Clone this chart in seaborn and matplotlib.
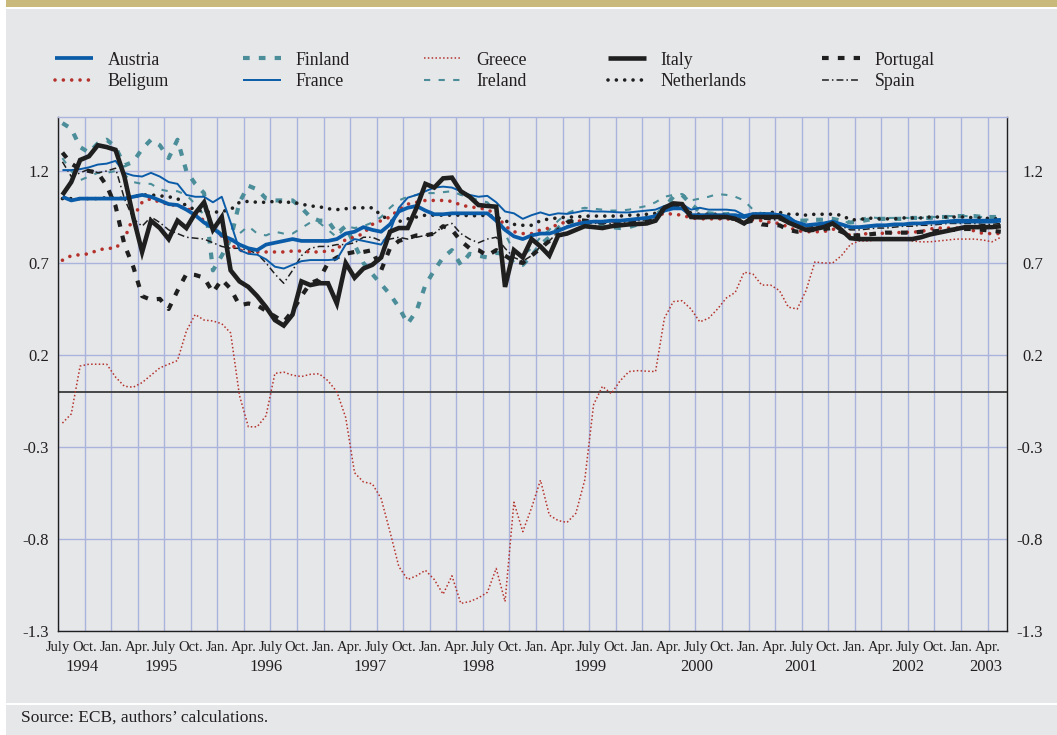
import numpy as np
import pandas as pd
import matplotlib
matplotlib.use("Agg")
import matplotlib.pyplot as plt
from matplotlib.patches import Rectangle
from matplotlib.lines import Line2D
import seaborn as sns

# ---------------- data (monthly, July 1994 - May 2003) ----------------
austria = [1.06, 1.04, 1.05, 1.05, 1.05, 1.05, 1.05, 1.05, 1.06, 1.07, 1.06, 1.04, 1.02, 1.015, 0.99, 0.96, 0.92, 0.89, 0.85, 0.83, 0.80, 0.78, 0.77, 0.80, 0.81, 0.82, 0.83,
           0.82, 0.82, 0.82, 0.82, 0.83, 0.86, 0.87, 0.895, 0.88, 0.87, 0.91, 0.98, 1.0, 1.01, 0.985, 0.965, 0.965, 0.97, 0.97, 0.97, 0.97, 0.97, 0.93, 0.88, 0.845, 0.83, 0.85,
           0.86, 0.86, 0.875, 0.895, 0.91, 0.92, 0.925, 0.925, 0.93, 0.93, 0.935, 0.94, 0.945, 0.955, 0.985, 0.997, 0.997, 0.96, 0.96, 0.96, 0.96, 0.96, 0.96, 0.95, 0.965, 0.965,
           0.965, 0.96, 0.935, 0.92, 0.905, 0.91, 0.915, 0.925, 0.91, 0.895, 0.895, 0.9, 0.905, 0.905, 0.91, 0.91, 0.915, 0.915, 0.92, 0.92, 0.925, 0.925, 0.925, 0.925, 0.925, 0.925, 0.93]
belgium = [0.715, 0.74, 0.745, 0.75, 0.77, 0.78, 0.78, 0.83, 0.95, 1.03, 1.05, 1.03, 1.02, 1.01, 1.0, 0.97, 0.93, 0.89, 0.845, 0.80, 0.77, 0.76, 0.76, 0.76, 0.76, 0.76, 0.765,
           0.765, 0.76, 0.76, 0.765, 0.77, 0.83, 0.84, 0.86, 0.91, 0.93, 0.95, 0.99, 1.02, 1.03, 1.04, 1.04, 1.04, 1.035, 1.015, 1.005, 1.0, 0.99, 0.965, 0.90, 0.87, 0.86, 0.86,
           0.88, 0.89, 0.91, 0.925, 0.93, 0.925, 0.925, 0.925, 0.925, 0.93, 0.935, 0.94, 0.945, 0.955, 0.97, 0.965, 0.96, 0.945, 0.94, 0.94, 0.94, 0.94, 0.935, 0.92, 0.935, 0.93,
           0.92, 0.915, 0.895, 0.875, 0.87, 0.87, 0.87, 0.885, 0.87, 0.85, 0.855, 0.86, 0.86, 0.862, 0.865, 0.866, 0.868, 0.87, 0.885, 0.89, 0.89, 0.89, 0.885, 0.875, 0.86, 0.86, 0.86]
finland = [1.46, 1.43, 1.33, 1.30, 1.35, 1.37, 1.33, 1.23, 1.25, 1.32, 1.37, 1.34, 1.27, 1.37, 1.20, 1.13, 1.08, 0.66, 0.74, 0.83, 1.03, 1.12, 1.10, 1.05, 1.04, 1.04, 1.04,
           1.0, 0.95, 0.93, 0.93, 0.86, 0.90, 0.80, 0.70, 0.64, 0.585, 0.53, 0.46, 0.37, 0.44, 0.58, 0.66, 0.73, 0.77, 0.69, 0.75, 0.74, 0.73, 0.755, 0.75, 0.70, 0.69, 0.74,
           0.80, 0.84, 0.89, 0.93, 0.92, 0.91, 0.905, 0.90, 0.895, 0.89, 0.895, 0.91, 0.925, 0.96, 1.0, 1.06, 1.07, 1.02, 0.98, 0.97, 0.965, 0.965, 0.97, 0.95, 0.96, 0.96,
           0.955, 0.955, 0.94, 0.93, 0.93, 0.935, 0.935, 0.94, 0.93, 0.92, 0.925, 0.935, 0.94, 0.94, 0.94, 0.94, 0.945, 0.945, 0.945, 0.95, 0.95, 0.955, 0.955, 0.955, 0.95, 0.95, 0.95]
france = [1.205, 1.205, 1.21, 1.22, 1.235, 1.24, 1.255, 1.19, 1.175, 1.17, 1.19, 1.17, 1.14, 1.13, 1.07, 1.06, 1.06, 1.03, 1.06, 0.92, 0.77, 0.75, 0.745, 0.72, 0.68, 0.67, 0.69,
          0.71, 0.716, 0.716, 0.716, 0.72, 0.80, 0.83, 0.82, 0.81, 0.80, 0.87, 1.0, 1.055, 1.07, 1.09, 1.11, 1.115, 1.11, 1.09, 1.07, 1.06, 1.065, 1.03, 0.98, 0.97, 0.94, 0.96,
          0.975, 0.96, 0.97, 0.967, 0.975, 0.985, 0.98, 0.98, 0.978, 0.975, 0.975, 0.98, 0.985, 0.99, 1.01, 1.02, 1.02, 0.99, 1.0, 0.99, 0.99, 0.99, 0.985, 0.96, 0.97, 0.97,
          0.97, 0.965, 0.955, 0.92, 0.905, 0.905, 0.91, 0.92, 0.91, 0.895, 0.89, 0.895, 0.9, 0.905, 0.905, 0.91, 0.915, 0.915, 0.92, 0.925, 0.93, 0.935, 0.935, 0.935, 0.935, 0.935, 0.94]
greece = [-0.17, -0.12, 0.14, 0.15, 0.15, 0.15, 0.08, 0.03, 0.025, 0.05, 0.09, 0.13, 0.15, 0.17, 0.33, 0.42, 0.39, 0.385, 0.37, 0.32, -0.02, -0.19, -0.19, -0.13, 0.10, 0.107, 0.09,
          0.083, 0.095, 0.098, 0.06, 0.0, -0.14, -0.44, -0.49, -0.50, -0.58, -0.76, -0.95, -1.02, -1.0, -0.97, -1.02, -1.10, -1.0, -1.15, -1.14, -1.12, -1.09, -0.96, -1.14, -0.60, -0.76, -0.63,
          -0.48, -0.67, -0.70, -0.71, -0.66, -0.48, -0.07, 0.03, -0.01, 0.06, 0.11, 0.115, 0.112, 0.11, 0.40, 0.49, 0.495, 0.45, 0.38, 0.40, 0.45, 0.51, 0.54, 0.65, 0.64, 0.58,
          0.58, 0.55, 0.46, 0.45, 0.55, 0.706, 0.70, 0.70, 0.74, 0.80, 0.82, 0.82, 0.825, 0.825, 0.83, 0.83, 0.82, 0.815, 0.815, 0.82, 0.825, 0.83, 0.83, 0.83, 0.825, 0.815, 0.84]
ireland = [1.27, 1.20, 1.15, 1.17, 1.19, 1.19, 1.20, 1.18, 1.14, 1.13, 1.13, 1.10, 1.09, 1.09, 1.07, 1.02, 0.96, 0.90, 0.86, 0.82, 0.86, 0.90, 0.86, 0.85, 0.87, 0.86, 0.86,
           0.89, 0.92, 0.92, 0.88, 0.84, 0.90, 0.89, 0.90, 0.92, 0.95, 1.0, 1.04, 1.06, 1.07, 1.08, 1.08, 1.085, 1.09, 1.07, 1.06, 1.04, 1.03, 0.98, 0.86, 0.76, 0.74, 0.78,
           0.84, 0.88, 0.93, 0.97, 0.99, 1.0, 0.995, 0.99, 0.985, 0.985, 0.99, 1.0, 1.01, 1.03, 1.06, 1.07, 1.075, 1.04, 1.05, 1.06, 1.075, 1.07, 1.06, 1.04, 0.99, 0.97,
           0.96, 0.95, 0.935, 0.93, 0.935, 0.94, 0.935, 0.93, 0.925, 0.92, 0.935, 0.95, 0.945, 0.945, 0.945, 0.945, 0.945, 0.945, 0.95, 0.95, 0.955, 0.955, 0.955, 0.95, 0.95, 0.945, 0.945]
italy = [1.07, 1.14, 1.26, 1.28, 1.34, 1.33, 1.315, 1.17, 0.95, 0.76, 0.93, 0.89, 0.83, 0.93, 0.89, 0.97, 1.03, 0.88, 0.95, 0.66, 0.60, 0.57, 0.52, 0.46, 0.39, 0.36, 0.42,
         0.60, 0.58, 0.59, 0.59, 0.48, 0.70, 0.62, 0.67, 0.69, 0.73, 0.87, 0.89, 0.89, 1.00, 1.13, 1.11, 1.16, 1.164, 1.09, 1.06, 1.015, 1.01, 1.006, 0.57, 0.77, 0.73, 0.83,
         0.79, 0.74, 0.85, 0.86, 0.88, 0.90, 0.895, 0.89, 0.90, 0.905, 0.91, 0.912, 0.915, 0.93, 1.0, 1.024, 1.02, 0.95, 0.948, 0.95, 0.95, 0.95, 0.94, 0.915, 0.95, 0.95,
         0.95, 0.95, 0.92, 0.90, 0.88, 0.885, 0.895, 0.915, 0.88, 0.835, 0.83, 0.83, 0.83, 0.83, 0.83, 0.83, 0.83, 0.84, 0.855, 0.865, 0.875, 0.885, 0.895, 0.895, 0.895, 0.895, 0.9]
netherlands = [1.05, 1.05, 1.05, 1.05, 1.05, 1.055, 1.055, 1.05, 1.06, 1.07, 1.07, 1.065, 1.06, 1.05, 1.01, 0.99, 0.98, 0.975, 0.98, 0.99, 1.03, 1.035, 1.03, 1.03, 1.035, 1.03, 1.03,
               1.02, 1.01, 1.006, 0.995, 0.99, 0.995, 1.0, 1.0, 1.0, 0.96, 0.93, 0.925, 0.94, 0.95, 0.96, 0.96, 0.96, 0.96, 0.96, 0.957, 0.957, 0.96, 0.95, 0.93, 0.91, 0.905, 0.905,
               0.93, 0.94, 0.945, 0.95, 0.95, 0.955, 0.955, 0.955, 0.955, 0.955, 0.96, 0.96, 0.965, 0.97, 1.0, 1.02, 1.02, 0.97, 0.965, 0.965, 0.965, 0.96, 0.955, 0.945, 0.965, 0.965,
               0.975, 0.975, 0.965, 0.965, 0.96, 0.965, 0.965, 0.965, 0.96, 0.935, 0.935, 0.945, 0.94, 0.94, 0.94, 0.945, 0.945, 0.945, 0.95, 0.95, 0.95, 0.95, 0.95, 0.945, 0.945, 0.94, 0.94]
portugal = [1.30, 1.24, 1.21, 1.20, 1.19, 1.12, 1.01, 0.80, 0.68, 0.52, 0.50, 0.505, 0.45, 0.55, 0.64, 0.635, 0.62, 0.54, 0.61, 0.56, 0.47, 0.48, 0.47, 0.44, 0.41, 0.38, 0.44,
            0.52, 0.59, 0.61, 0.70, 0.73, 0.75, 0.76, 0.76, 0.77, 0.66, 0.78, 0.82, 0.835, 0.85, 0.85, 0.86, 0.90, 0.88, 0.82, 0.78, 0.77, 0.74, 0.77, 0.74, 0.71, 0.70, 0.74,
            0.78, 0.82, 0.88, 0.92, 0.935, 0.93, 0.925, 0.92, 0.92, 0.92, 0.925, 0.93, 0.935, 0.95, 0.99, 1.015, 1.01, 0.96, 0.95, 0.95, 0.95, 0.945, 0.94, 0.92, 0.93, 0.91,
            0.905, 0.905, 0.88, 0.87, 0.875, 0.88, 0.885, 0.89, 0.87, 0.85, 0.85, 0.855, 0.86, 0.865, 0.865, 0.865, 0.865, 0.87, 0.87, 0.875, 0.88, 0.88, 0.885, 0.885, 0.88, 0.875, 0.87]
spain = [1.25, 1.17, 1.19, 1.21, 1.19, 1.20, 1.215, 1.05, 0.94, 0.90, 0.95, 0.92, 0.88, 0.86, 0.84, 0.835, 0.83, 0.81, 0.79, 0.78, 0.78, 0.77, 0.75, 0.70, 0.64, 0.59, 0.66,
         0.74, 0.78, 0.79, 0.79, 0.80, 0.80, 0.81, 0.84, 0.84, 0.82, 0.83, 0.84, 0.83, 0.84, 0.85, 0.86, 0.90, 0.915, 0.86, 0.83, 0.81, 0.83, 0.84, 0.78, 0.73, 0.71, 0.74,
         0.79, 0.82, 0.87, 0.9, 0.91, 0.915, 0.915, 0.915, 0.915, 0.92, 0.925, 0.93, 0.935, 0.95, 0.99, 1.01, 1.01, 0.96, 0.955, 0.955, 0.955, 0.95, 0.945, 0.925, 0.945, 0.94,
         0.935, 0.935, 0.915, 0.90, 0.895, 0.9, 0.905, 0.915, 0.9, 0.88, 0.88, 0.885, 0.89, 0.89, 0.895, 0.9, 0.9, 0.905, 0.905, 0.91, 0.915, 0.915, 0.915, 0.915, 0.91, 0.91, 0.915]

countries = ["Austria", "Beligum", "Finland", "France", "Greece",
             "Ireland", "Italy", "Netherlands", "Portugal", "Spain"]
series = dict(zip(countries, [austria, belgium, finland, france, greece,
                              ireland, italy, netherlands, portugal, spain]))

quarter_labels = ["July", "Oct.", "Jan.", "Apr."] * 9
year_labels = ["1994", "1995", "1996", "1997", "1998", "1999", "2000", "2001", "2002", "2003"]
ytick_values = [-1.3, -0.8, -0.3, 0.2, 0.7, 1.2]
ytick_labels = ["-1.3", "-0.8", "-0.3", "0.2", "0.7", "1.2"]
source_text = "Source: ECB, authors\u2019 calculations."

n = len(austria)
for k, v in series.items():
    assert len(v) == n, (k, len(v))

# ---------------- layout / style (positions in months since July 1994) ----------------
month_pos = np.arange(n) + 0.5
tick_pos = np.arange(0, 3 * len(quarter_labels), 3)
year_pos = [2.7, 11.6, 23.5, 35.3, 47.5, 60.1, 72.2, 83.9, 96.0, 104.8]

BLUE = "#0b5ca8"
RED = "#b5322c"
TEAL = "#4b8e9a"
BLACK = "#1f1f1f"
GRID = "#a9b3db"
PANEL = "#e6e7e9"
GOLD = "#c9b97b"
TXT = "#231f20"

styles = {
    "Greece":      dict(color=RED,   lw=1.1, ls=(0, (1.0, 1.5)), cap="butt"),
    "Ireland":     dict(color=TEAL,  lw=1.5, ls=(0, (3.0, 4.0)), cap="butt"),
    "Finland":     dict(color=TEAL,  lw=3.0, ls=(0, (1.6, 2.2)), cap="butt"),
    "Spain":       dict(color=BLACK, lw=1.1, ls=(0, (4.5, 2.0, 1.0, 2.0)), cap="butt"),
    "Netherlands": dict(color=BLACK, lw=2.6, ls=(0, (0.01, 2.3)), cap="round"),
    "Beligum":     dict(color=RED,   lw=2.6, ls=(0, (0.01, 2.3)), cap="round"),
    "Portugal":    dict(color=BLACK, lw=3.0, ls=(0, (1.6, 2.2)), cap="butt"),
    "France":      dict(color=BLUE,  lw=1.4, ls="-", cap="butt"),
    "Austria":     dict(color=BLUE,  lw=2.7, ls="-", cap="butt"),
    "Italy":       dict(color=BLACK, lw=3.3, ls="-", cap="butt"),
}
draw_order = ["Greece", "Ireland", "Finland", "Spain", "Netherlands",
              "Beligum", "Portugal", "France", "Austria", "Italy"]

sns.set_style("white")
plt.rcParams["font.family"] = ["Liberation Serif", "DejaVu Serif"]

W, H = 1057, 735
fig = plt.figure(figsize=(W / 100, H / 100), dpi=100)
fig.patch.set_facecolor("white")

# background panels
fig.patches.append(Rectangle((6 / W, 1 - 7 / H), 1, 7 / H, transform=fig.transFigure,
                             facecolor=GOLD, edgecolor="none", zorder=-10))
fig.patches.append(Rectangle((6 / W, (H - 703) / H), 1, (703 - 9) / H, transform=fig.transFigure,
                             facecolor=PANEL, edgecolor="none", zorder=-10))
fig.patches.append(Rectangle((6 / W, 0), 1, (H - 705) / H, transform=fig.transFigure,
                             facecolor=PANEL, edgecolor="none", zorder=-10))

ax = fig.add_axes([58 / W, (H - 631) / H, (1007 - 58) / W, (631 - 117) / H])
ax.set_facecolor(PANEL)

df = pd.DataFrame({"month": month_pos, **series})
handles = {}
for name in draw_order:
    st = styles[name]
    kw = dict(color=st["color"], linewidth=st["lw"], linestyle=st["ls"],
              dash_capstyle=st["cap"], solid_capstyle="butt")
    if name == "Italy":
        kw["solid_joinstyle"] = "miter"
    sns.lineplot(data=df, x="month", y=name, ax=ax, legend=False, zorder=3, **kw)
    handles[name] = Line2D([], [], color=st["color"], linewidth=st["lw"],
                           linestyle=st["ls"], dash_capstyle=st["cap"], solid_capstyle="butt")

ax.axhline(0, color="#3a3a3a", lw=1.3, zorder=2)

ax.set_xlim(0, 107.2)
ax.set_ylim(-1.3, 1.4935)
ax.set_xticks(tick_pos)
ax.set_xticklabels(quarter_labels, fontsize=10.5, color=TXT)
ax.set_yticks(ytick_values)
ax.set_yticklabels(ytick_labels, fontsize=12, color=TXT)
ax.set_xlabel("")
ax.set_ylabel("")
ax.grid(True, axis="both", color=GRID, lw=1.0)
ax.set_axisbelow(True)
ax.tick_params(axis="x", direction="out", length=4, width=0.8, color=BLACK, pad=3)
ax.tick_params(axis="y", length=0, pad=6.5)
for side in ["left", "bottom", "right"]:
    ax.spines[side].set_color(BLACK)
    ax.spines[side].set_linewidth(1.0)
    ax.spines[side].set_visible(True)
ax.spines["top"].set_color(GRID)
ax.spines["top"].set_linewidth(1.0)
ax.spines["top"].set_visible(True)

# right-hand labels
ax2 = ax.twinx()
ax2.set_ylim(ax.get_ylim())
ax2.set_yticks(ytick_values)
ax2.set_yticklabels(ytick_labels, fontsize=12, color=TXT, ha="right")
ax2.tick_params(axis="y", length=0, pad=26)
ax2.grid(False)
for s in ax2.spines.values():
    s.set_visible(False)

# year labels
for yl, yp in zip(year_labels, year_pos):
    ax.text(yp, -0.070, yl, transform=ax.get_xaxis_transform(), ha="center", va="center",
            fontsize=12, color=TXT)

# legend (five columns of two entries)
legend_cols = [["Austria", "Beligum"], ["Finland", "France"], ["Greece", "Ireland"],
               ["Italy", "Netherlands"], ["Portugal", "Spain"]]
col_x = [55, 243, 424, 608, 822]
for names, xp in zip(legend_cols, col_x):
    fig.legend([handles[nm] for nm in names], names, loc="center left",
               bbox_to_anchor=(xp / W, 1 - 71 / H), frameon=False, borderpad=0,
               borderaxespad=0, handlelength=2.15, handletextpad=0.8, labelspacing=0.28,
               prop={"family": ["Liberation Serif"], "size": 12.8}, labelcolor=TXT)

fig.text(21 / W, 1 - 718 / H, source_text, ha="left", va="center", fontsize=12.5, color=TXT)

fig.savefig("out.png", dpi=100, facecolor=fig.get_facecolor())
